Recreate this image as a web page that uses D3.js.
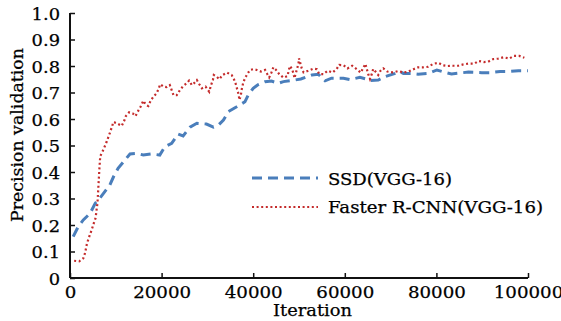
<!DOCTYPE html>
<html><head><meta charset="utf-8">
<script src="https://cdn.jsdelivr.net/npm/d3@7"></script>
<style>body{margin:0;background:#fff}svg{display:block}text{font-family:"DejaVu Serif",serif;fill:#000;stroke:#000;stroke-width:0.25px}</style>
</head><body><svg id="c" width="561" height="321"></svg>
<script>
const ssdIter = [700,1800,2900,4400,5500,6200,7600,8700,9500,10500,12000,13100,14600,16000,17800,19600,20700,22200,23600,24700,26200,27700,29800,31300,32400,33500,34600,36400,38200,38900,40000,41100,42600,44000,45500,46600,48700,50400,52800,54200,55700,57100,59700,61100,63300,64800,65400,67300,68800,71000,72000,72800,74600,76000,78200,80100,81900,83300,85900,87000,89900,91700,93900,95700,97900,100000];
const ssdVal = [0.156,0.194,0.219,0.244,0.282,0.294,0.326,0.351,0.382,0.414,0.445,0.468,0.470,0.464,0.468,0.464,0.495,0.508,0.543,0.536,0.569,0.584,0.581,0.569,0.577,0.596,0.628,0.646,0.665,0.690,0.716,0.730,0.741,0.743,0.735,0.741,0.746,0.751,0.766,0.769,0.744,0.754,0.754,0.749,0.757,0.750,0.745,0.747,0.760,0.772,0.779,0.772,0.772,0.769,0.772,0.785,0.776,0.770,0.775,0.777,0.775,0.775,0.779,0.779,0.782,0.782];
const frcnnIter = [900,2000,2900,3300,3700,4200,4700,5200,5600,5800,6000,6400,6600,7100,7500,8000,8400,8800,9100,9500,10200,11300,11900,12200,12900,13700,14300,14800,15400,16000,16600,17100,17600,18200,18900,19300,19700,20400,21100,21800,22200,22600,23300,24000,24700,25500,26000,26600,27100,27700,28200,28800,29600,30400,30800,31200,31400,32000,32600,33300,34300,35300,35800,36200,36500,36800,37000,37300,37500,37800,38200,38800,39300,40000,40800,41700,42600,43100,43500,44000,44400,45000,45700,46600,47500,47700,48000,48400,48800,49000,49300,49600,49900,50000,50300,50600,51000,52000,53100,53900,54400,55300,56300,57300,58200,58800,59700,60600,61600,62600,63500,63900,64500,64800,65100,65500,65900,66200,66700,67300,67800,68400,69300,70500,71700,72800,73900,75000,76000,77100,78200,79300,80400,81400,82500,83700,84800,85900,87000,88300,89200,90400,91300,92400,93500,94700,95900,96900,98100,99200];
const frcnnVal = [0.065,0.063,0.074,0.095,0.130,0.156,0.180,0.207,0.227,0.257,0.283,0.407,0.460,0.477,0.493,0.514,0.533,0.552,0.568,0.589,0.584,0.574,0.596,0.611,0.625,0.621,0.611,0.628,0.646,0.669,0.653,0.649,0.669,0.684,0.697,0.712,0.731,0.722,0.720,0.728,0.709,0.690,0.690,0.709,0.724,0.735,0.745,0.728,0.735,0.747,0.732,0.716,0.722,0.703,0.728,0.747,0.766,0.760,0.750,0.766,0.775,0.766,0.750,0.732,0.712,0.694,0.672,0.690,0.712,0.735,0.754,0.772,0.785,0.788,0.785,0.779,0.785,0.769,0.757,0.776,0.795,0.785,0.769,0.756,0.762,0.779,0.800,0.791,0.772,0.754,0.772,0.791,0.810,0.829,0.810,0.791,0.776,0.782,0.790,0.788,0.770,0.769,0.782,0.775,0.788,0.804,0.803,0.791,0.801,0.788,0.775,0.789,0.808,0.789,0.770,0.751,0.770,0.789,0.779,0.766,0.782,0.791,0.779,0.776,0.781,0.775,0.779,0.788,0.795,0.795,0.797,0.808,0.812,0.803,0.800,0.801,0.801,0.806,0.809,0.809,0.819,0.815,0.816,0.826,0.828,0.833,0.828,0.838,0.838,0.831];
const xTicks = [0,20000,40000,60000,80000,100000];
const yTicks = [0,0.1,0.2,0.3,0.4,0.5,0.6,0.7,0.8,0.9,1.0];
const yTickLabels = ["0","0.1","0.2","0.3","0.4","0.5","0.6","0.7","0.8","0.9","1.0"];
const seriesNames = ["SSD(VGG-16)","Faster R-CNN(VGG-16)"];
const xTitle = "Iteration", yTitle = "Precision validation";

const svg = d3.select("#c");
const x = d3.scaleLinear().domain([0,100000]).range([70,528]);
const y = d3.scaleLinear().domain([0,1]).range([278,13]);
const blue = "#4a7ebb", red = "#c42b2b";

function stretch(t, k){ t.each(function(){ const L=this.getComputedTextLength(); d3.select(this).attr("textLength", L*k).attr("lengthAdjust","spacingAndGlyphs"); }); }

// axes
const gx = svg.append("g").attr("transform","translate(0,278)")
  .call(d3.axisBottom(x).tickValues(xTicks).tickSize(-5).tickPadding(0).tickFormat(d3.format("d")));
const gy = svg.append("g").attr("transform","translate(70,0)")
  .call(d3.axisLeft(y).tickValues(yTicks).tickSize(-5).tickPadding(0).tickFormat((d,i)=>yTickLabels[i]));
[gx,gy].forEach(g=>{
  g.select(".domain").attr("stroke","#111").attr("stroke-width",2).attr("d", g===gx?"M70,0H528":"M0,13V278");
  g.selectAll(".tick line").attr("stroke","#111").attr("stroke-width",1.5);
  g.selectAll(".tick text").attr("font-size",17).attr("font-family","DejaVu Serif").attr("fill","#000");
});
gx.selectAll(".tick text").attr("y",20).attr("dy",0);
gy.selectAll(".tick text").attr("x",-10).attr("dy","0.36em");
stretch(gx.selectAll(".tick text"),1.07);
stretch(gy.selectAll(".tick text"),1.05);

// lines
const lineGen = d3.line().x(d=>x(d[0])).y(d=>y(d[1]));
svg.append("path").datum(ssdIter.map((v,i)=>[v,ssdVal[i]]))
  .attr("d",lineGen).attr("fill","none").attr("stroke",blue).attr("stroke-width",3).attr("stroke-dasharray","10,6");
svg.append("path").datum(frcnnIter.map((v,i)=>[v,frcnnVal[i]]))
  .attr("d",lineGen).attr("fill","none").attr("stroke",red).attr("stroke-width",2.2).attr("stroke-dasharray","2,2.6");

// legend
const leg = svg.append("g");
const legY = [178,207], legBase=[185,213];
leg.append("line").attr("x1",252).attr("x2",318).attr("y1",legY[0]).attr("y2",legY[0]).attr("stroke",blue).attr("stroke-width",3).attr("stroke-dasharray","10,6");
leg.append("line").attr("x1",252).attr("x2",318).attr("y1",legY[1]).attr("y2",legY[1]).attr("stroke",red).attr("stroke-width",2.2).attr("stroke-dasharray","2,2.6");
leg.append("text").attr("x",328).attr("y",legBase[0]).attr("font-size",16).text(seriesNames[0]).attr("textLength",124).attr("lengthAdjust","spacingAndGlyphs");
leg.append("text").attr("x",328).attr("y",legBase[1]).attr("font-size",16).text(seriesNames[1]).attr("textLength",215).attr("lengthAdjust","spacingAndGlyphs");

// titles
svg.append("text").attr("x",273).attr("y",316).attr("font-size",17).text(xTitle).attr("textLength",79).attr("lengthAdjust","spacingAndGlyphs");
svg.append("text").attr("transform","translate(23,222) rotate(-90)").attr("font-size",17).text(yTitle).attr("textLength",174).attr("lengthAdjust","spacingAndGlyphs");
</script></body></html>
